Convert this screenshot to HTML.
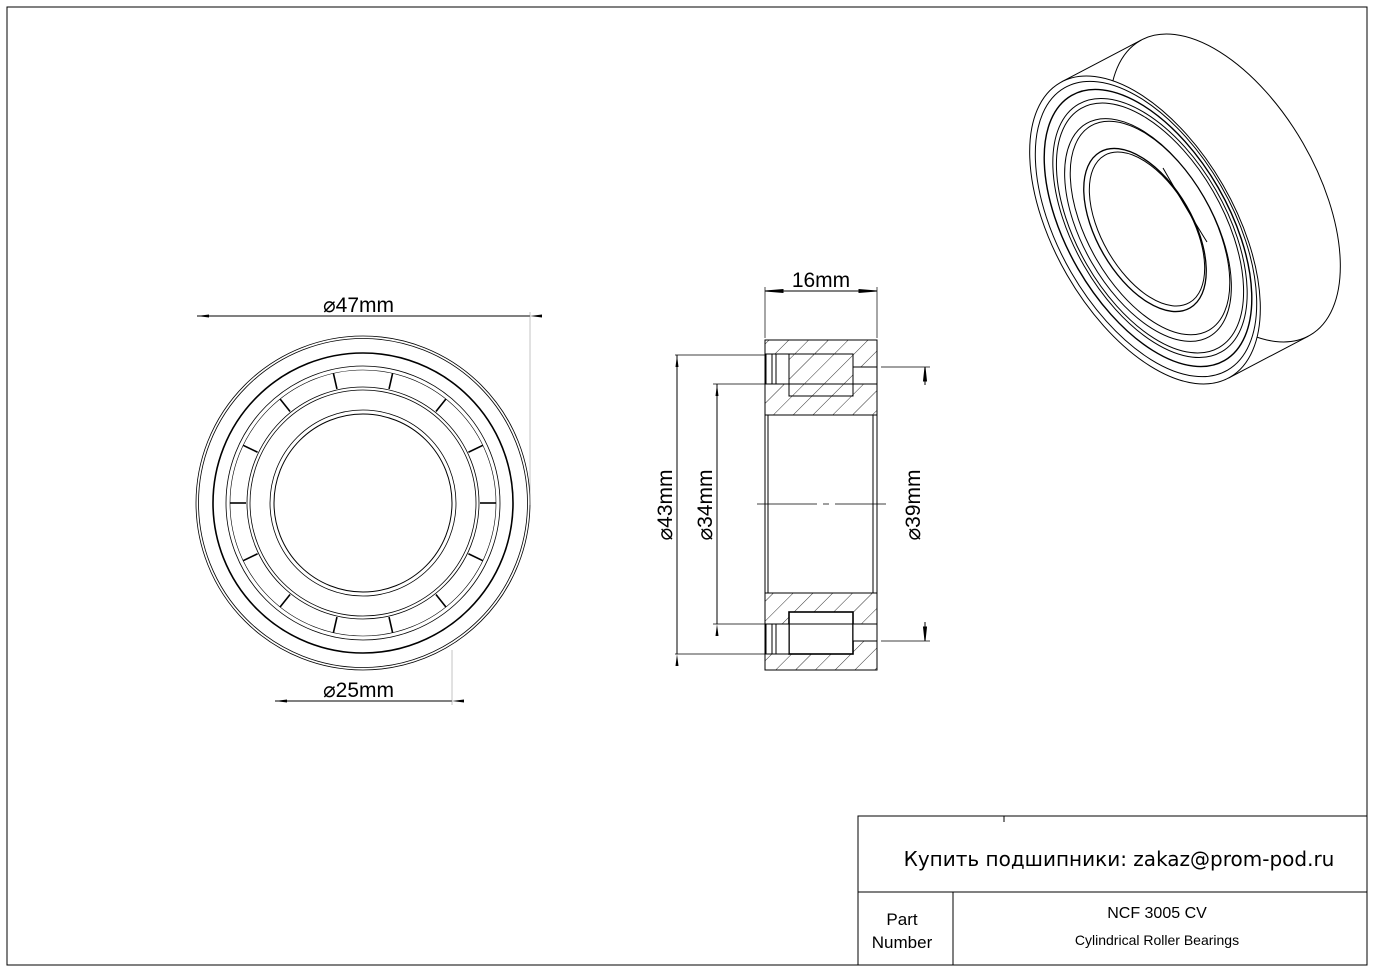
<!DOCTYPE html>
<html><head><meta charset="utf-8"><style>
html,body{margin:0;padding:0;background:#fff;}
svg{display:block;}
text{font-family:"Liberation Sans","DejaVu Sans",sans-serif;fill:#000;}
</style></head><body>
<svg id="s" width="1374" height="973" viewBox="0 0 1374 973" xmlns="http://www.w3.org/2000/svg">
<defs>
<pattern id="h" width="14" height="14" patternUnits="userSpaceOnUse" patternTransform="rotate(45)">
<line x1="0" y1="0" x2="0" y2="14" stroke="#000" stroke-width="0.8"/>
</pattern>
<marker id="a" markerWidth="12" markerHeight="6" refX="0" refY="3" orient="auto" markerUnits="userSpaceOnUse">
<path d="M0,3 L12,1.5 L12,4.5 Z" fill="#000"/></marker>
</defs>
<rect x="7" y="7" width="1360" height="958" fill="none" stroke="#000" stroke-width="1"/>

<!-- Front view -->
<g fill="none" stroke="#000">
<circle cx="363" cy="503" r="167" stroke-width="0.8"/>
<circle cx="363" cy="503" r="164.5" stroke-width="0.8"/>
<circle cx="363" cy="503" r="150" stroke-width="1.6"/>
<circle cx="363" cy="503" r="137" stroke-width="0.8"/>
<circle cx="363" cy="503" r="133" stroke-width="0.6"/>
<circle cx="363" cy="503" r="116" stroke-width="0.8"/>
<circle cx="363" cy="503" r="113" stroke-width="0.8"/>
<circle cx="363" cy="503" r="93" stroke-width="0.8"/>
<circle cx="363" cy="503" r="89" stroke-width="1"/>
<g stroke-width="1.6">
<line x1="363" y1="370" x2="363" y2="386" transform="rotate(12.86 363 503)"/>
<line x1="363" y1="370" x2="363" y2="386" transform="rotate(38.57 363 503)"/>
<line x1="363" y1="370" x2="363" y2="386" transform="rotate(64.29 363 503)"/>
<line x1="363" y1="370" x2="363" y2="386" transform="rotate(90 363 503)"/>
<line x1="363" y1="370" x2="363" y2="386" transform="rotate(115.71 363 503)"/>
<line x1="363" y1="370" x2="363" y2="386" transform="rotate(141.43 363 503)"/>
<line x1="363" y1="370" x2="363" y2="386" transform="rotate(167.14 363 503)"/>
<line x1="363" y1="370" x2="363" y2="386" transform="rotate(192.86 363 503)"/>
<line x1="363" y1="370" x2="363" y2="386" transform="rotate(218.57 363 503)"/>
<line x1="363" y1="370" x2="363" y2="386" transform="rotate(244.29 363 503)"/>
<line x1="363" y1="370" x2="363" y2="386" transform="rotate(270 363 503)"/>
<line x1="363" y1="370" x2="363" y2="386" transform="rotate(295.71 363 503)"/>
<line x1="363" y1="370" x2="363" y2="386" transform="rotate(321.43 363 503)"/>
<line x1="363" y1="370" x2="363" y2="386" transform="rotate(347.14 363 503)"/>
</g>
</g>
<g stroke="#000" stroke-width="1" fill="none">
<line x1="197" y1="316" x2="530" y2="316" marker-start="url(#a)" marker-end="url(#a)"/>
<line x1="530" y1="312" x2="530" y2="505" stroke-width="0.5" stroke="#888"/>
<line x1="275" y1="701" x2="452" y2="701" marker-start="url(#a)" marker-end="url(#a)"/>
<line x1="452" y1="650" x2="452" y2="705" stroke-width="0.5" stroke="#888"/>
</g>
<text x="323" y="312" font-size="21">⌀47mm</text>
<text x="323" y="697" font-size="21">⌀25mm</text>

<!-- Section view -->
<g stroke="#000" stroke-width="1">
<rect x="765" y="340" width="112" height="75" fill="url(#h)"/>
<rect x="765" y="593" width="112" height="77" fill="url(#h)"/>
<rect x="789" y="354" width="64" height="42" fill="none"/>
<rect x="789" y="612" width="64" height="42" fill="#fff" stroke-width="1.6"/>
<rect x="766" y="354" width="23" height="30" fill="#fff"/>
<rect x="766" y="624" width="23" height="30" fill="#fff"/>
<rect x="853" y="367" width="24" height="17" fill="#fff"/>
<rect x="853" y="624" width="24" height="17" fill="#fff"/>
<line x1="772" y1="354" x2="772" y2="384"/><line x1="776" y1="354" x2="776" y2="384"/>
<line x1="772" y1="624" x2="772" y2="654"/><line x1="776" y1="624" x2="776" y2="654"/>
<line x1="765" y1="384" x2="877" y2="384"/>
<line x1="765" y1="624" x2="877" y2="624"/>
<line x1="765" y1="415" x2="765" y2="593"/><line x1="877" y1="415" x2="877" y2="593"/>
<line x1="768" y1="415" x2="768" y2="593"/><line x1="873" y1="415" x2="873" y2="593"/>
<line x1="757" y1="504" x2="886" y2="504" stroke-width="0.8" stroke-dasharray="60,6,6,6"/>
</g>
<g stroke="#000" stroke-width="1" fill="none">
<line x1="765" y1="287" x2="765" y2="338" stroke-width="0.7"/>
<line x1="877" y1="287" x2="877" y2="338" stroke-width="0.7"/>
<line x1="765" y1="291" x2="877" y2="291"/>
<path d="M765,291 L783,289.5 L783,292.5Z M877,291 L859,289.5 L859,292.5Z" fill="#000"/>
<line x1="675" y1="355" x2="765" y2="355" stroke-width="0.7"/>
<line x1="675" y1="654" x2="765" y2="654" stroke-width="0.7"/>
<line x1="677" y1="355" x2="677" y2="654" marker-start="url(#a)" marker-end="url(#a)"/>
<line x1="713" y1="384" x2="765" y2="384" stroke-width="0.7"/>
<line x1="713" y1="624" x2="765" y2="624" stroke-width="0.7"/>
<line x1="717" y1="384" x2="717" y2="624" marker-start="url(#a)" marker-end="url(#a)"/>
<line x1="881" y1="367" x2="930" y2="367" stroke-width="0.7"/>
<line x1="881" y1="641" x2="930" y2="641" stroke-width="0.7"/>
<line x1="925" y1="367" x2="925" y2="385"/>
<line x1="925" y1="622" x2="925" y2="641"/>
<path d="M925,367 L923.5,381 L926.5,381Z M925,641 L923.5,627 L926.5,627Z" fill="#000"/>
</g>
<text x="821" y="287" font-size="21" text-anchor="middle">16mm</text>
<text transform="translate(672,505) rotate(-90)" font-size="21" text-anchor="middle">⌀43mm</text>
<text transform="translate(712,505) rotate(-90)" font-size="21" text-anchor="middle">⌀34mm</text>
<text transform="translate(920,505) rotate(-90)" font-size="21" text-anchor="middle">⌀39mm</text>

<!-- 3D view -->
<g fill="none" stroke="#000" stroke-width="1">
<ellipse cx="1225" cy="188" rx="90" ry="170" transform="rotate(-30 1225 188)" fill="#fff"/>
<line id="t1" x1="0" y1="0" x2="0" y2="0"/>
<line id="t2" x1="0" y1="0" x2="0" y2="0"/>
<ellipse cx="1145" cy="230" rx="90" ry="170" transform="rotate(-30 1145 230)" fill="#fff"/>
<ellipse cx="1146" cy="229" rx="86.5" ry="163" transform="rotate(-30 1146 229)"/>
<ellipse cx="1148" cy="228" rx="81" ry="153" transform="rotate(-30 1148 228)" stroke-width="1.4"/>
<ellipse cx="1150" cy="228" rx="76" ry="143" transform="rotate(-30 1150 228)"/>
<ellipse cx="1150" cy="228" rx="73" ry="138" transform="rotate(-30 1150 228)"/>
<ellipse cx="1148" cy="230" rx="65" ry="123" transform="rotate(-30 1148 230)"/>
<ellipse cx="1150" cy="228" rx="62" ry="118" transform="rotate(-30 1150 228)"/>
<ellipse cx="1145" cy="230" rx="48" ry="90" transform="rotate(-30 1145 230)" stroke-width="1.3"/>
<ellipse cx="1147" cy="229" rx="45" ry="85" transform="rotate(-30 1147 229)"/>
<path d="M1163,168 Q1190,215 1207,242"/>
</g>

<!-- Title block -->
<g stroke="#000" stroke-width="1" fill="none">
<rect x="858" y="816" width="509" height="149"/>
<line x1="858" y1="892" x2="1367" y2="892"/>
<line x1="953" y1="892" x2="953" y2="965"/>
<line x1="1004" y1="816" x2="1004" y2="822"/>
</g>
<text x="1119" y="866" font-size="20" text-anchor="middle" style="font-family:'DejaVu Sans',sans-serif">Купить подшипники: zakaz@prom-pod.ru</text>
<text x="902" y="925" font-size="17" text-anchor="middle">Part</text>
<text x="902" y="948" font-size="17" text-anchor="middle">Number</text>
<text x="1157" y="918" font-size="16" text-anchor="middle">NCF 3005 CV</text>
<text x="1157" y="945" font-size="14" text-anchor="middle">Cylindrical Roller Bearings</text>
</svg>
<script>
(function(){
var cx=1145,cy=230,rx=90,ry=170,th=-30*Math.PI/180,dx=80,dy=-42;
var c=Math.cos(th),s=Math.sin(th);
var lx=c*dx+s*dy, ly=-s*dx+c*dy;
var t=Math.atan2(-ry*lx, rx*ly);
function P(t){var u=rx*Math.cos(t),v=ry*Math.sin(t);return [cx+c*u-s*v, cy+s*u+c*v];}
[[t,'t1'],[t+Math.PI,'t2']].forEach(function(a){
var p=P(a[0]);var e=document.getElementById(a[1]);
e.setAttribute('x1',p[0]);e.setAttribute('y1',p[1]);
e.setAttribute('x2',p[0]+dx);e.setAttribute('y2',p[1]+dy);});
})();
</script>
</body></html>
